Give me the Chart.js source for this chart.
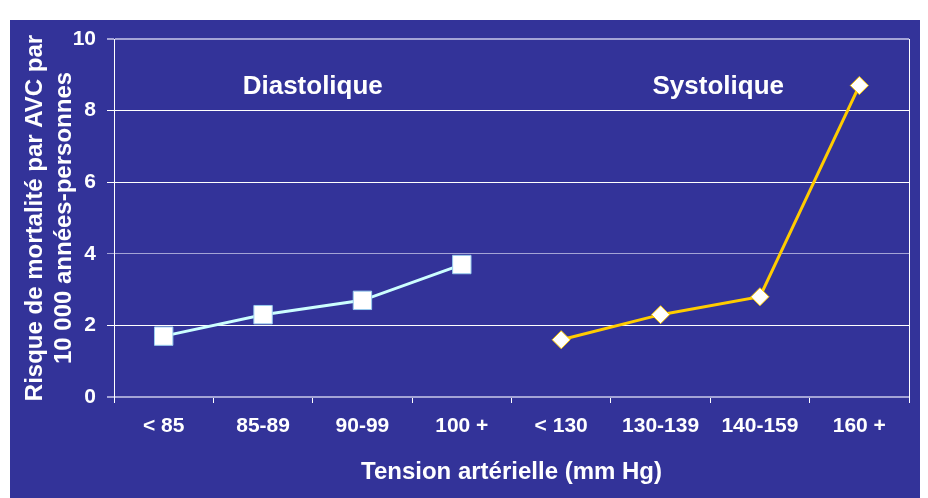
<!DOCTYPE html>
<html>
<head>
<meta charset="utf-8">
<script src="https://cdn.jsdelivr.net/npm/chart.js@4"></script>
<style>
  html, body { margin: 0; padding: 0; background: #ffffff; }
  #panel { position: absolute; left: 10px; top: 20px; width: 910px; height: 478px; background: #333399; overflow: hidden; }
  canvas { display: block; }
</style>
</head>
<body>
<div id="panel"><canvas id="chart" width="913" height="478"></canvas></div>
<script>
// données
const categories = ['< 85', '85-89', '90-99', '100 +', '< 130', '130-139', '140-159', '160 +'];
const diastolique = [1.7, 2.3, 2.7, 3.7, null, null, null, null];
const systolique = [null, null, null, null, 1.6, 2.3, 2.8, 8.7];
const yTicks = [0, 2, 4, 6, 8, 10];
const groupLabels = ['Diastolique', 'Systolique'];

Chart.defaults.font.family = '"Liberation Sans", Arial, sans-serif';
Chart.defaults.font.weight = 'bold';
Chart.defaults.color = '#ffffff';

const lavender = '#a4a4d6';

// titres des groupes + bordure droite
const extras = {
    id: 'extras',
    afterDraw(chart) {
        const c = chart.ctx;
        const x = chart.scales.x, y = chart.scales.y;
        const area = chart.chartArea;
        c.save();
        c.strokeStyle = '#ffffff';
        c.lineWidth = 1;
        c.beginPath();
        c.moveTo(area.right + 0.5, area.top);
        c.lineTo(area.right + 0.5, area.bottom);
        c.stroke();

        c.fillStyle = '#ffffff';
        c.font = 'bold 26px "Liberation Sans", Arial, sans-serif';
        c.textAlign = 'center';
        c.textBaseline = 'alphabetic';
        const ty = y.getPixelForValue(8.45);
        c.fillText(groupLabels[0], x.getPixelForValue(1.5), ty);
        c.fillText(groupLabels[1], x.getPixelForValue(5.5) + 8, ty);
        c.restore();
    }
};

function noPad(scale) {
    scale.paddingTop = 0;
    scale.paddingBottom = 0;
    scale.paddingLeft = 0;
    scale.paddingRight = 0;
}

const ctx = document.getElementById('chart').getContext('2d');
const chart = new Chart(ctx, {
    type: 'line',
    data: {
        labels: categories,
        datasets: [{
            label: groupLabels[0],
            data: diastolique,
            borderColor: '#ccffff',
            borderWidth: 3,
            pointStyle: 'rect',
            pointRadius: 13,
            pointHoverRadius: 13,
            pointBackgroundColor: '#ffffff',
            pointBorderColor: '#99ccee',
            pointBorderWidth: 1,
            spanGaps: false
        }, {
            label: groupLabels[1],
            data: systolique,
            borderColor: '#ffcc00',
            borderWidth: 3,
            pointStyle: 'rectRot',
            pointRadius: 9,
            pointHoverRadius: 9,
            pointBackgroundColor: '#ffffff',
            pointBorderColor: '#ffcc00',
            pointBorderWidth: 1,
            spanGaps: false
        }]
    },
    options: {
        responsive: false,
        animation: false,
        layout: { padding: { top: 19, right: 11, left: 0, bottom: 0 } },
        plugins: {
            legend: { display: false },
            tooltip: { enabled: false }
        },
        scales: {
            x: {
                offset: true,
                grid: {
                    offset: true,
                    drawOnChartArea: false,
                    color: '#ffffff',
                    tickLength: 6,
                    tickColor: '#ffffff'
                },
                border: { display: false },
                ticks: {
                    color: '#ffffff',
                    font: { size: 21, weight: 'bold' },
                    padding: 11,
                    maxRotation: 0,
                    autoSkip: false
                },
                title: {
                    display: true,
                    text: 'Tension artérielle (mm Hg)',
                    color: '#ffffff',
                    font: { size: 24, weight: 'bold' },
                    padding: { top: 0, bottom: 11 }
                },
                afterFit(scale) { scale.height = 101; noPad(scale); }
            },
            y: {
                min: 0,
                max: 10,
                afterBuildTicks(scale) { scale.ticks = yTicks.map(v => ({ value: v })); },
                grid: {
                    color: ctx => (ctx.tick && (ctx.tick.value === 0 || ctx.tick.value === 4 || ctx.tick.value === 10)) ? lavender : '#ffffff',
                    lineWidth: ctx => (ctx.tick && (ctx.tick.value === 0 || ctx.tick.value === 10)) ? 2 : 1,
                    tickLength: 7
                },
                border: { display: true, color: '#ffffff', width: 1 },
                ticks: {
                    color: '#ffffff',
                    font: { size: 21, weight: 'bold' },
                    padding: 11
                },
                title: {
                    display: true,
                    text: ['Risque de mortalité par AVC par', '10 000 années-personnes'],
                    color: '#ffffff',
                    font: { size: 24, weight: 'bold', lineHeight: 1.2 },
                    padding: { top: 11, bottom: 0 }
                },
                afterFit(scale) { scale.width = 104; noPad(scale); }
            }
        }
    },
    plugins: [extras]
});
</script>
</body>
</html>
